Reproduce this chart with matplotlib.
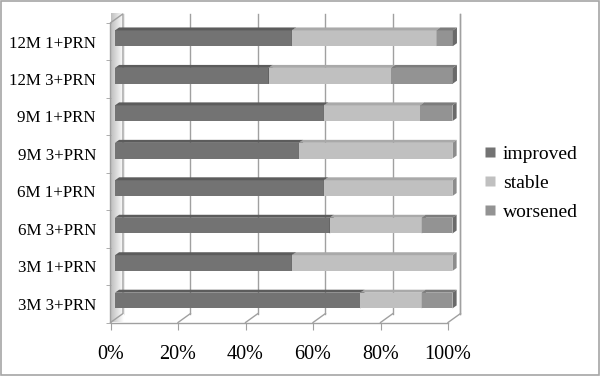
import matplotlib.pyplot as plt
import numpy as np
from matplotlib.patches import Polygon, Rectangle
from matplotlib.lines import Line2D

plt.rcParams['font.family'] = ['Liberation Serif', 'DejaVu Serif']

categories = ['3M 3+PRN', '3M 1+PRN', '6M 3+PRN', '6M 1+PRN',
              '9M 3+PRN', '9M 1+PRN', '12M 3+PRN', '12M 1+PRN']
improved = [72.7, 52.4, 63.6, 61.9, 54.5, 61.9, 45.5, 52.4]
stable = [18.2, 47.6, 27.3, 38.1, 45.5, 28.6, 36.4, 42.9]
worsened = [9.1, 0.0, 9.1, 0.0, 0.0, 9.5, 18.2, 4.8]
series = ['improved', 'stable', 'worsened']
xticks = [0, 20, 40, 60, 80, 100]

front = {'improved': '#737373', 'stable': '#c0c0c0', 'worsened': '#939393'}
top = {'improved': '#5c5c5c', 'stable': '#a9a9a9', 'worsened': '#7c7c7c'}
side = {'improved': '#505050', 'stable': '#8c8c8c', 'worsened': '#6a6a6a'}

fig = plt.figure(figsize=(6, 3.76), dpi=100)
ax = fig.add_axes([110.5 / 600, (376 - 322.5) / 376, 337.5 / 600, 299.7 / 376])
ax.set_xlim(0, 100)
ax.set_ylim(-0.5, 7.5)

# depth of the 3d box in data units
dx, dy = 3.7, 0.24
d0, d1 = 0.36, 0.69
h = 0.42
ymin, ymax = -0.5, 7.5
grid_c = '#a0a0a0'

# back wall gridlines
for v in xticks:
    ax.plot([v + dx, v + dx], [ymin + dy, ymax + dy], color=grid_c, lw=1, clip_on=False, zorder=1)
    ax.plot([v, v + dx], [ymin, ymin + dy], color=grid_c, lw=1, clip_on=False, zorder=1)
ax.plot([0, 100], [ymin, ymin], color=grid_c, lw=1, clip_on=False, zorder=1)

# left wall
wall = Polygon([(0, ymin), (dx, ymin + dy), (dx, ymax + dy), (0, ymax)], closed=True,
               facecolor='none', edgecolor=grid_c, lw=1, clip_on=False, zorder=2)
ax.add_patch(wall)
grad = np.linspace(0.75, 1.0, 50).reshape(1, -1)
im = ax.imshow(grad, extent=[0, dx, ymin, ymax + dy], aspect='auto', cmap='gray',
               vmin=0, vmax=1, zorder=1.5, clip_on=False)
im.set_clip_path(wall)

# bars
data = {'improved': improved, 'stable': stable, 'worsened': worsened}
for i in range(len(categories)):
    left = 0.0
    for s in series:
        w = data[s][i]
        if w <= 0:
            continue
        x0 = left + d0 * dx
        yb = i - h / 2 + d0 * dy
        yt = i + h / 2 + d0 * dy
        ax.add_patch(Rectangle((x0, yb), w, h, facecolor=front[s], edgecolor='none',
                               clip_on=False, zorder=3))
        ax.add_patch(Polygon([(x0, yt), (x0 + w, yt),
                              (left + w + d1 * dx, yt + (d1 - d0) * dy),
                              (left + d1 * dx, yt + (d1 - d0) * dy)],
                             closed=True, facecolor=top[s], edgecolor='none',
                             clip_on=False, zorder=3))
        ax.add_patch(Polygon([(x0 + w, yb), (x0 + w, yt),
                              (left + w + d1 * dx, yt + (d1 - d0) * dy),
                              (left + w + d1 * dx, yb + (d1 - d0) * dy)],
                             closed=True, facecolor=side[s], edgecolor='none',
                             clip_on=False, zorder=3))
        left += w

# right edge of the back wall
ax.plot([100 + dx, 100 + dx], [ymin + dy, ymax + dy], color=grid_c, lw=1, clip_on=False, zorder=1)

for sp in ax.spines.values():
    sp.set_visible(False)
ax.set_xticks(xticks)
ax.set_xticklabels([f'{v}%' for v in xticks], fontsize=14.5)
ax.tick_params(axis='x', direction='out', length=5, color=grid_c, pad=11)
ax.set_yticks(range(len(categories)))
ax.set_yticklabels(categories, fontsize=12.2)
ax.set_yticks(np.arange(-0.5, 8.0, 1.0), minor=True)
ax.tick_params(axis='y', which='major', length=0, pad=10.5)
ax.tick_params(axis='y', which='minor', direction='out', length=3.5, color=grid_c)
ax.set_facecolor('none')

handles = [Line2D([], [], marker='s', ls='none', markersize=7, markerfacecolor=front[s],
                  markeredgecolor='none') for s in series]
fig.legend(handles, series, loc='center left', bbox_to_anchor=(463 / 600, 1 - 183 / 376),
           frameon=False, fontsize=14, handletextpad=0.15, labelspacing=0.58,
           handlelength=1.0)

fig.patches.append(Rectangle((0.0015, 0.002), 0.996, 0.995, transform=fig.transFigure,
                             facecolor='none', edgecolor='#a6a6a6', lw=1.2))

fig.savefig('out.png', dpi=100)
